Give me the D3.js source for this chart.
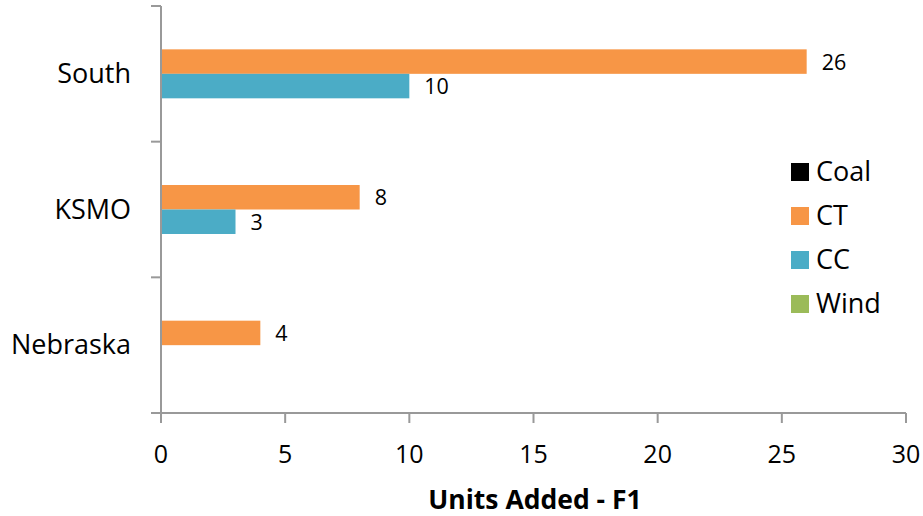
<!DOCTYPE html>
<html><head><meta charset="utf-8">
<script src="https://cdn.jsdelivr.net/npm/d3@7"></script>
<style>body{margin:0;background:#fff}svg{display:block}text{font-family:"Open Sans",sans-serif}</style>
</head><body>
<svg id="c" width="923" height="516"></svg>
<script>
const categories = ["South", "KSMO", "Nebraska"];
const seriesNames = ["Coal", "CT", "CC", "Wind"];
const seriesColors = ["#000000", "#F79646", "#4BACC6", "#9BBB59"];
const coal = [0, 0, 0];
const ct = [26, 8, 4];
const cc = [10, 3, 0];
const wind = [0, 0, 0];
const xTicks = [0, 5, 10, 15, 20, 25, 30];
const axisTitle = "Units Added - F1";

const values = [coal, ct, cc, wind];
const svg = d3.select("#c");
const m = {left: 161, right: 906, top: 6, bottom: 413};
const x = d3.scaleLinear().domain([0, 30]).range([m.left, m.right]);
const y = d3.scaleBand().domain(categories).range([m.top, m.bottom]);
const sub = d3.scaleBand().domain(seriesNames).range([0, y.bandwidth()]).paddingOuter(0.77);
const grey = "#999999";

// bars
seriesNames.forEach((s, si) => {
  const g = svg.append("g");
  categories.forEach((c, ci) => {
    const v = values[si][ci];
    if (!v) return;
    const y0 = y(c) + sub(s);
    g.append("rect").attr("x", x(0)).attr("y", y0)
      .attr("width", x(v) - x(0)).attr("height", sub.bandwidth())
      .attr("fill", seriesColors[si]);
    g.append("text").attr("x", x(v) + 15).attr("y", y0 + sub.bandwidth() / 2 + 8)
      .attr("font-size", 21.5).attr("fill", "#000")
      .text(v);
  });
});

// y axis
const ya = svg.append("g");
ya.append("line").attr("x1", x(0)).attr("x2", x(0)).attr("y1", m.top).attr("y2", m.bottom)
  .attr("stroke", grey).attr("stroke-width", 2);
const bounds = categories.map(c => y(c)).concat([m.bottom]);
bounds.forEach(b => ya.append("line").attr("x1", x(0) - 10).attr("x2", x(0)).attr("y1", b).attr("y2", b)
  .attr("stroke", grey).attr("stroke-width", 2));
categories.forEach(c => ya.append("text").attr("x", 131).attr("y", y(c) + y.bandwidth() / 2 + 9)
  .attr("text-anchor", "end").attr("font-size", 27).text(c));

// x axis
const xa = svg.append("g");
xa.append("line").attr("x1", x(0) - 10).attr("x2", x(30)).attr("y1", m.bottom).attr("y2", m.bottom)
  .attr("stroke", grey).attr("stroke-width", 2);
xTicks.forEach(t => {
  xa.append("line").attr("x1", x(t)).attr("x2", x(t)).attr("y1", m.bottom).attr("y2", m.bottom + 10)
    .attr("stroke", grey).attr("stroke-width", 2);
  xa.append("text").attr("x", x(t)).attr("y", 463).attr("text-anchor", "middle")
    .attr("font-size", 25).text(t);
});
svg.append("text").attr("x", 535).attr("y", 509).attr("text-anchor", "middle")
  .attr("font-size", 26.5).attr("font-weight", "bold").text(axisTitle);

// legend
seriesNames.forEach((s, i) => {
  const by = 181 + i * 44;
  svg.append("rect").attr("x", 791).attr("y", by - 18).attr("width", 18).attr("height", 18).attr("fill", seriesColors[i]);
  svg.append("text").attr("x", 816).attr("y", by).attr("font-size", 27).text(s);
});
</script>
</body></html>
